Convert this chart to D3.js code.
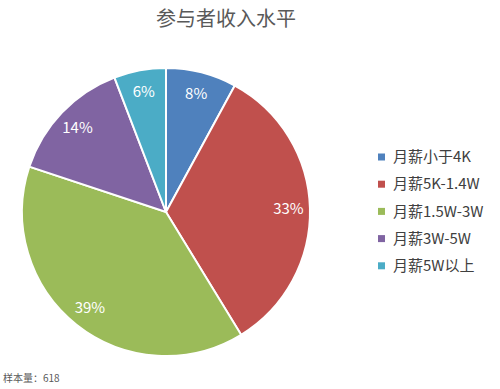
<!DOCTYPE html>
<html>
<head>
<meta charset="utf-8">
<script src="https://cdn.jsdelivr.net/npm/d3@7"></script>
<style>
body { margin: 0; background: #fff; }
text { font-family: "Noto Sans CJK SC", "Open Sans", sans-serif; }
</style>
</head>
<body>
<script>
var categories = ['月薪小于4K', '月薪5K-1.4W', '月薪1.5W-3W', '月薪3W-5W', '月薪5W以上'];
var counts = [49, 206, 240, 87, 36];
var colors = ['#4F81BD', '#C0504D', '#9BBB59', '#8064A2', '#4BACC6'];
var sampleSize = 618;

var width = 500, height = 389;
var cx = 166, cy = 212, r = 144;

var svg = d3.select('body').append('svg')
	.attr('width', width)
	.attr('height', height);

svg.append('text')
	.attr('x', 226).attr('y', 26)
	.attr('text-anchor', 'middle')
	.style('font-size', '20px')
	.style('fill', '#595959')
	.text('参与者收入水平');

var total = d3.sum(counts);
var pie = d3.pie().sort(null)(counts);
var arc = d3.arc().innerRadius(0).outerRadius(r);
var labelArc = d3.arc().innerRadius(r * 0.85).outerRadius(r * 0.85);

var g = svg.append('g').attr('transform', 'translate(' + cx + ',' + cy + ')');

g.selectAll('path')
	.data(pie)
	.enter().append('path')
	.attr('d', arc)
	.attr('fill', function(d, i) { return colors[i]; })
	.attr('stroke', '#fff')
	.attr('stroke-width', 2);

g.selectAll('text.lbl')
	.data(pie)
	.enter().append('text')
	.attr('class', 'lbl')
	.attr('transform', function(d) { return 'translate(' + labelArc.centroid(d) + ')'; })
	.attr('text-anchor', 'middle')
	.attr('dy', '0.35em')
	.style('font-size', '15px')
	.style('fill', '#fff')
	.text(function(d) { return Math.round(d.value / total * 100) + '%'; });

var legend = svg.append('g').attr('transform', 'translate(378,157)');
var items = legend.selectAll('g')
	.data(categories)
	.enter().append('g')
	.attr('transform', function(d, i) { return 'translate(0,' + (i * 27.2) + ')'; });

items.append('rect')
	.attr('x', 0).attr('y', -3.5)
	.attr('width', 7).attr('height', 7)
	.attr('fill', function(d, i) { return colors[i]; });

items.append('text')
	.attr('x', 15).attr('dy', '0.35em')
	.style('font-size', '15px')
	.style('fill', '#404040')
	.text(function(d) { return d; });

svg.append('text')
	.attr('x', 3).attr('y', 382)
	.style('font-size', '10px')
	.style('fill', '#595959')
	.text('样本量：' + sampleSize);
</script>
</body>
</html>
